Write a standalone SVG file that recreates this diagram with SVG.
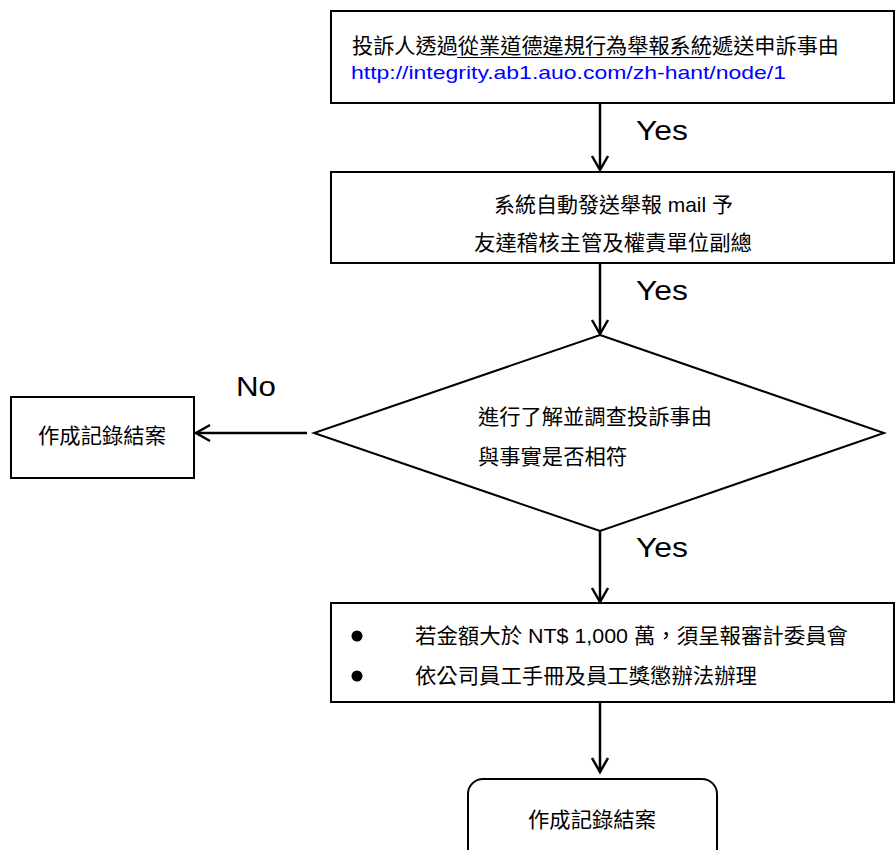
<svg xmlns="http://www.w3.org/2000/svg" width="896" height="850" viewBox="0 0 896 850">
<defs>
<style>
.box{fill:#fff;stroke:#000;stroke-width:2}
.t{font-family:"Liberation Sans","Noto Sans CJK TC",sans-serif;font-size:21px;fill:#000}
.lbl{font-family:"Liberation Sans","Noto Sans CJK TC",sans-serif;font-size:28px;fill:#000}
.url{font-family:"Liberation Sans","Noto Sans CJK TC",sans-serif;font-size:19px;fill:#0000ff}
.c{fill:none;stroke:#000;stroke-width:2.5}
</style>
<marker id="ah" viewBox="0 0 20 20" refX="17" refY="10" markerWidth="20" markerHeight="20" markerUnits="userSpaceOnUse" orient="auto">
<path d="M3,2 L17,10 L3,18" fill="none" stroke="#000" stroke-width="2.5"/>
</marker>
</defs>
<rect width="896" height="850" fill="#fff"/>
<g id="connectors">
<line class="c" x1="600" y1="103" x2="600" y2="170" marker-end="url(#ah)"/>
<line class="c" x1="600" y1="263" x2="600" y2="334" marker-end="url(#ah)"/>
<line class="c" x1="600" y1="531" x2="600" y2="602" marker-end="url(#ah)"/>
<line class="c" x1="600" y1="702" x2="600" y2="772" marker-end="url(#ah)"/>
<line class="c" x1="307" y1="433" x2="196" y2="433" marker-end="url(#ah)"/>
<text class="lbl" x="636" y="140" textLength="52" lengthAdjust="spacingAndGlyphs">Yes</text>
<text class="lbl" x="636" y="300" textLength="52" lengthAdjust="spacingAndGlyphs">Yes</text>
<text class="lbl" x="636" y="557" textLength="52" lengthAdjust="spacingAndGlyphs">Yes</text>
<text class="lbl" x="236" y="396" textLength="40" lengthAdjust="spacingAndGlyphs">No</text>
</g>
<g id="n1">
<rect class="box" x="331" y="11" width="563" height="92"/>
<text class="t" x="352" y="53" textLength="487" lengthAdjust="spacingAndGlyphs">投訴人透過從業道德違規行為舉報系統遞送申訴事由</text>
<line x1="457" y1="57.5" x2="710" y2="57.5" stroke="#000" stroke-width="1"/>
<text class="url" x="351" y="79" textLength="435" lengthAdjust="spacingAndGlyphs">http://integrity.ab1.auo.com/zh-hant/node/1</text>
</g>
<g id="n2">
<rect class="box" x="331" y="172" width="563" height="91"/>
<text class="t" x="494" y="212" textLength="239" lengthAdjust="spacingAndGlyphs">系統自動發送舉報 mail 予</text>
<text class="t" x="474" y="250" textLength="278" lengthAdjust="spacingAndGlyphs">友達稽核主管及權責單位副總</text>
</g>
<g id="n3">
<polygon class="box" points="600,335 884,433 600,531 314,433"/>
<text class="t" x="478" y="424" textLength="234" lengthAdjust="spacingAndGlyphs">進行了解並調查投訴事由</text>
<text class="t" x="478" y="464" textLength="149" lengthAdjust="spacingAndGlyphs">與事實是否相符</text>
</g>
<g id="n4">
<rect class="box" x="11" y="397" width="183" height="81"/>
<text class="t" x="38" y="443" textLength="128" lengthAdjust="spacingAndGlyphs">作成記錄結案</text>
</g>
<g id="n5">
<rect class="box" x="331" y="603" width="563" height="99"/>
<circle cx="357" cy="636" r="5.5" fill="#000"/>
<circle cx="357" cy="676" r="5.5" fill="#000"/>
<text class="t" x="415" y="643" textLength="433" lengthAdjust="spacingAndGlyphs">若金額大於 NT$ 1,000 萬，須呈報審計委員會</text>
<text class="t" x="415" y="683" textLength="342" lengthAdjust="spacingAndGlyphs">依公司員工手冊及員工獎懲辦法辦理</text>
</g>
<g id="n6">
<rect class="box" x="468" y="779" width="249" height="100" rx="15" ry="15"/>
<text class="t" x="528" y="827" textLength="128" lengthAdjust="spacingAndGlyphs">作成記錄結案</text>
</g>
</svg>
